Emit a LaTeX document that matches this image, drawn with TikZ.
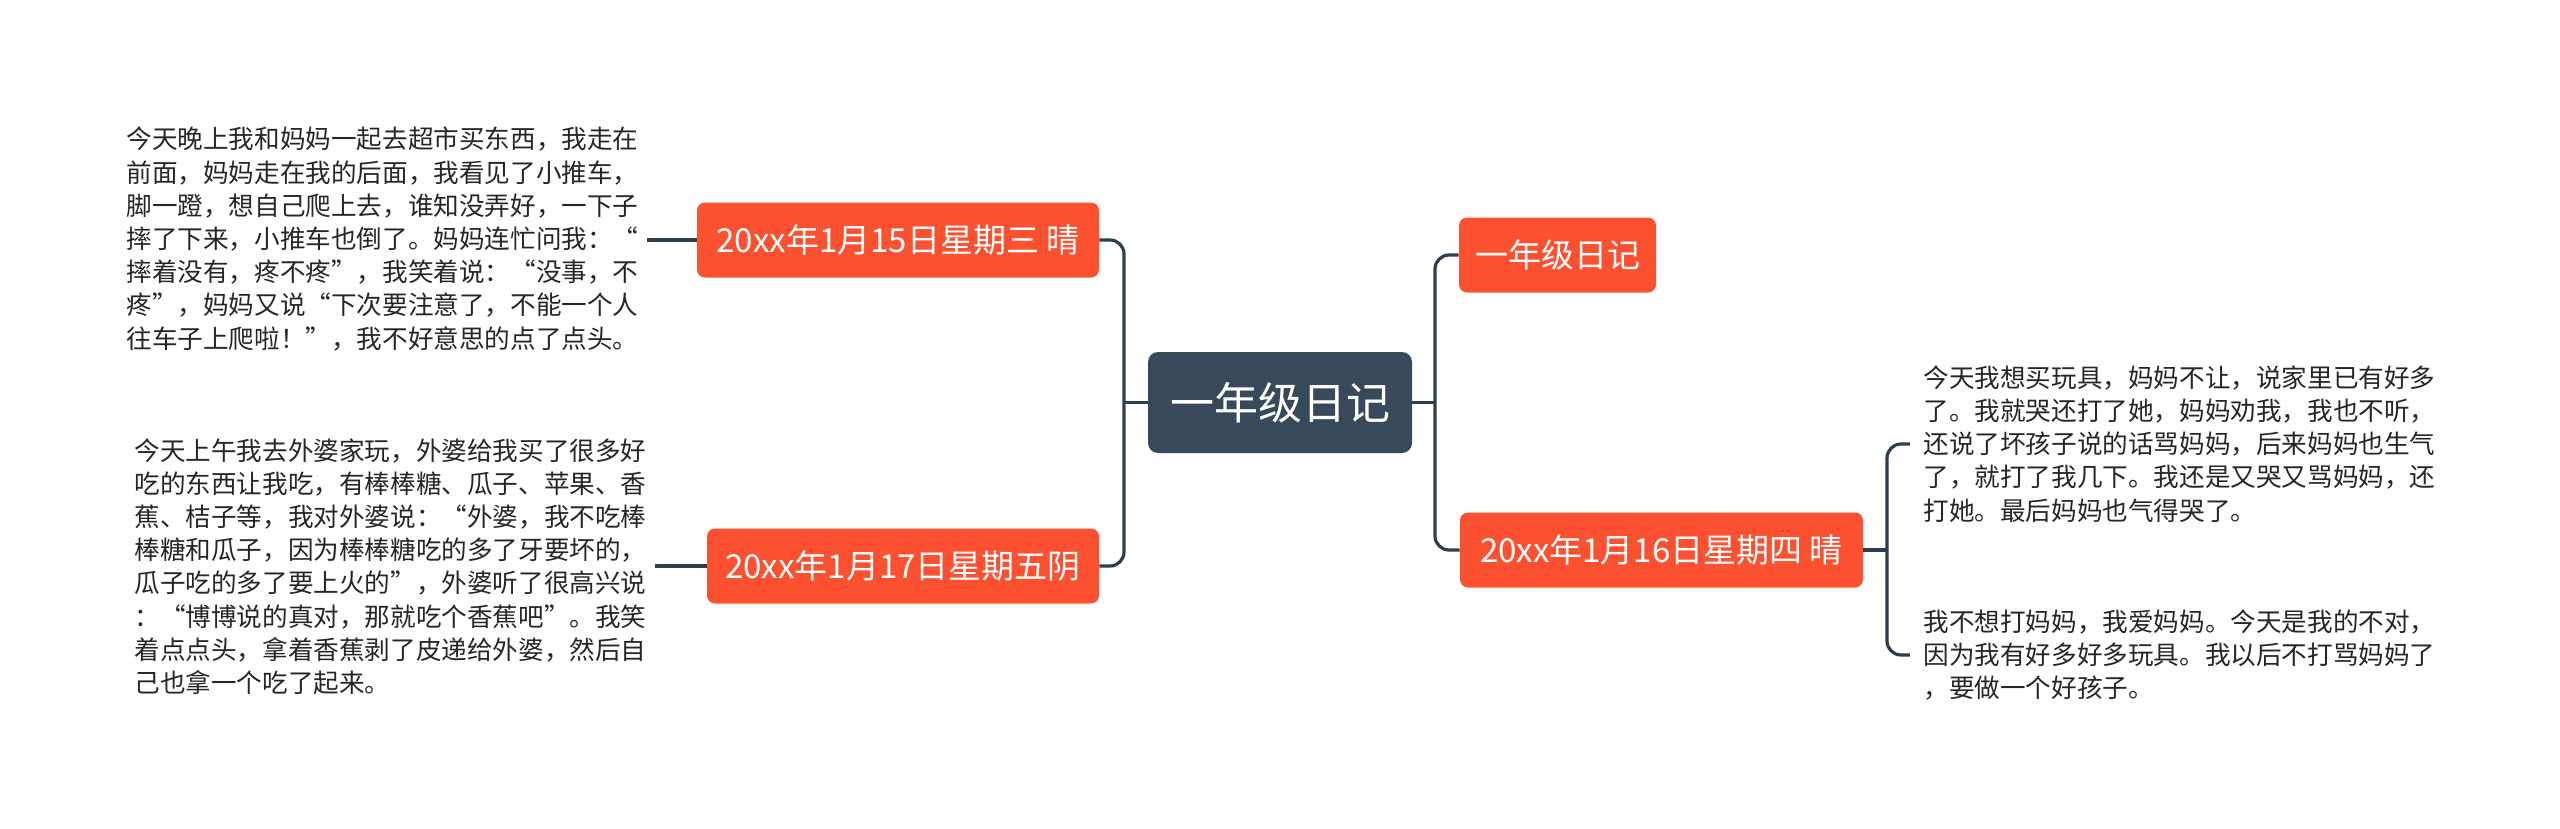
\documentclass[tikz,border=0pt]{standalone}
\usepackage{fontspec}
\newfontfamily\cjk{Noto Sans CJK SC}
\definecolor{orng}{HTML}{FC5130}
\definecolor{slate}{HTML}{37495A}
\definecolor{lnc}{HTML}{2F3E4E}
\begin{document}
\begin{tikzpicture}[x=0.5pt,y=-0.5pt,
  topic/.style={fill=orng, text=white, rounded corners=4pt, font=\cjk\fontsize{16.5pt}{19pt}\selectfont, minimum height=37.5pt, inner sep=0pt},
  rootbox/.style={fill=slate, text=white, rounded corners=5pt, font=\cjk\fontsize{22pt}{26pt}\selectfont, minimum width=132pt, minimum height=50.5pt, inner sep=0pt},
  body/.style={font=\cjk\fontsize{12.8pt}{16.6pt}\selectfont, align=left, text=black!85, inner ysep=0pt},
  conn/.style={draw=lnc, line width=1.6pt, rounded corners=7pt}]
\useasboundingbox (0,0) rectangle (2560,829);
\fill[white] (0,0) rectangle (2560,829);
% nodes
\node[rootbox] (root) at (1280,402.5) {一年级日记};
\node[topic, minimum width=201pt] (n15) at (898,240) {20xx年1月15日星期三 晴};
\node[topic, minimum width=196pt] (n17) at (903,566) {20xx年1月17日星期五阴};
\node[topic, minimum width=98.5pt] (nr1) at (1557.5,255) {一年级日记};
\node[topic, minimum width=201.5pt] (n16) at (1661.5,550) {20xx年1月16日星期四 晴};
% texts
\node[body, inner xsep=4pt, anchor=west] (t1) at (118,239) {今天晚上我和妈妈一起去超市买东西，我走在\\前面，妈妈走在我的后面，我看见了小推车，\\脚一蹬，想自己爬上去，谁知没弄好，一下子\\摔了下来，小推车也倒了。妈妈连忙问我：“\\摔着没有，疼不疼”，我笑着说：“没事，不\\疼”，妈妈又说“下次要注意了，不能一个人\\往车子上爬啦！”，我不好意思的点了点头。};
\node[body, inner xsep=4pt, anchor=west] (t2) at (126,566.5) {今天上午我去外婆家玩，外婆给我买了很多好\\吃的东西让我吃，有棒棒糖、瓜子、苹果、香\\蕉、桔子等，我对外婆说：“外婆，我不吃棒\\棒糖和瓜子，因为棒棒糖吃的多了牙要坏的，\\瓜子吃的多了要上火的”，外婆听了很高兴说\\：“博博说的真对，那就吃个香蕉吧”。我笑\\着点点头，拿着香蕉剥了皮递给外婆，然后自\\己也拿一个吃了起来。};
\node[body, inner xsep=6.5pt, anchor=west] (t3) at (1910,444) {今天我想买玩具，妈妈不让，说家里已有好多\\了。我就哭还打了她，妈妈劝我，我也不听，\\还说了坏孩子说的话骂妈妈，后来妈妈也生气\\了，就打了我几下。我还是又哭又骂妈妈，还\\打她。最后妈妈也气得哭了。};
\node[body, inner xsep=6.5pt, anchor=west] (t4) at (1910,655) {我不想打妈妈，我爱妈妈。今天是我的不对，\\因为我有好多好多玩具。我以后不打骂妈妈了\\，要做一个好孩子。};
% junctions
\coordinate (jl) at (1124,402.5);
\coordinate (jr) at (1435,402.5);
\coordinate (j16) at (1887,550);
% connectors
\draw[conn] (root.west) -- (jl);
\draw[conn] (n15.east) -| (jl) |- (n17.east);
\draw[conn] (root.east) -- (jr);
\draw[conn] (nr1.west) -| (jr) |- (n16.west);
\draw[conn] (n16.east) -- (j16);
\draw[conn] (t3.west) -| (j16) |- (t4.west);
\draw[conn] (t1.east |- n15.west) -- (n15.west);
\draw[conn] (t2.east |- n17.west) -- (n17.west);
\end{tikzpicture}
\end{document}
